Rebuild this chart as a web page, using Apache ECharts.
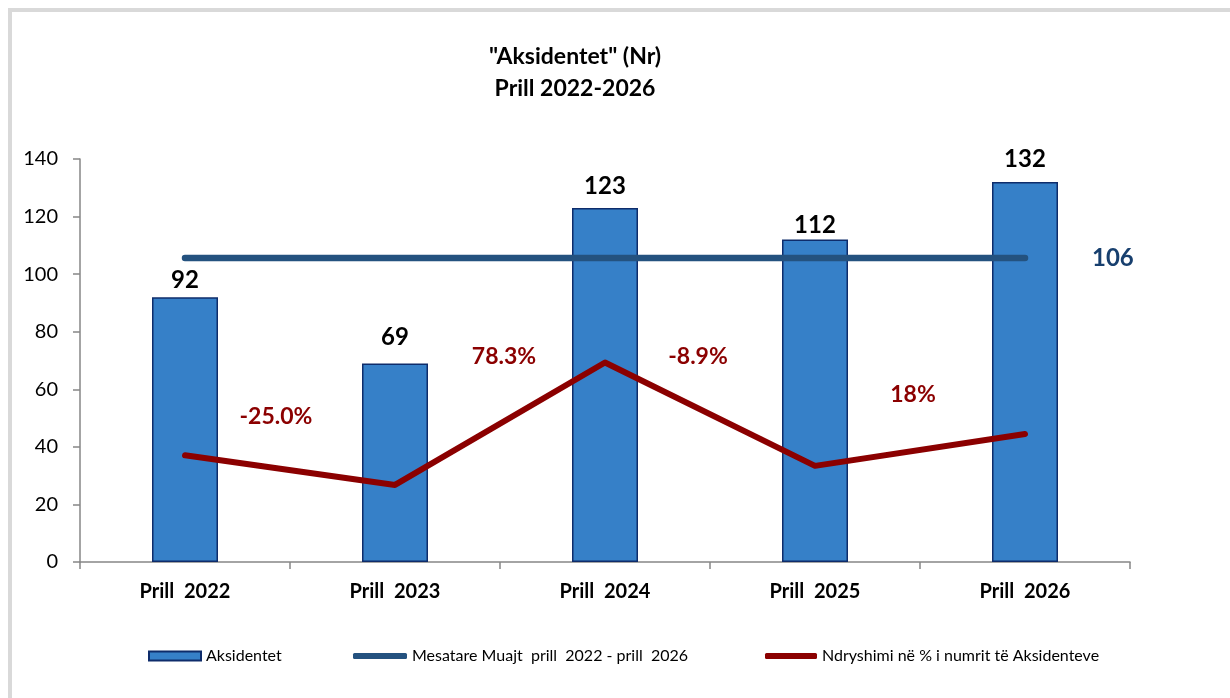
<!DOCTYPE html>
<html><head><meta charset="utf-8">
<script src="https://cdn.jsdelivr.net/npm/echarts@6/dist/echarts.min.js"></script>
<style>html,body{margin:0;padding:0;background:#fff}#c{width:1230px;height:698px}</style>
</head><body><div id="c"></div>
<script>
// ---- data ----
const categories = ['Prill  2022', 'Prill  2023', 'Prill  2024', 'Prill  2025', 'Prill  2026'];
const accidents = [92, 69, 123, 112, 132];
const averageValue = 105.6;
const averageLabel = '106';
const pctChange = [0, -25.0, 78.3, -8.9, 18];
const pctLabels = ['', '-25.0%', '78.3%', '-8.9%', '18%'];
const yTicks = [0, 20, 40, 60, 80, 100, 120, 140];
const titleLines = ['"Aksidentet" (Nr)', 'Prill 2022-2026'];
const seriesNames = ['Aksidentet', 'Mesatare Muajt  prill  2022 - prill  2026', 'Ndryshimi në % i numrit të Aksidenteve'];

// ---- style (label placement in px) ----
const pctLabelOffsets = [[0, 0], [-119, -68], [-101, -6], [-117, -109], [-112, -39]];
const barLabelDistances = [5, 14, 10, 2, 11];
const FONT = 'Lato, "Liberation Sans", sans-serif';
const RED = '#8B0000';
const AVG = '#24527F';

const chart = echarts.init(document.getElementById('c'), null, { renderer: 'canvas' });

const option = {
  backgroundColor: '#fff',
  animation: false,
  textStyle: { fontFamily: FONT },
  graphic: [
    { type: 'rect', shape: { x: 10, y: 10, width: 1240, height: 720 }, style: { fill: 'none', stroke: '#D9D9D9', lineWidth: 4 }, silent: true },
    { type: 'text', x: 575, y: 57, style: { text: titleLines[0], font: 'bold 23px ' + FONT, fill: '#000', textAlign: 'center', textVerticalAlign: 'middle' } },
    { type: 'text', x: 575, y: 89, style: { text: titleLines[1], font: 'bold 23px ' + FONT, fill: '#000', textAlign: 'center', textVerticalAlign: 'middle' } }
  ],
  grid: { left: 80, right: 100, top: 159, bottom: 136, containLabel: false },
  legend: [
    { data: [seriesNames[0]], left: 143, top: 643, itemWidth: 52, itemHeight: 9, icon: 'rect',
      textStyle: { fontSize: 16, color: '#000', fontFamily: FONT } },
    { data: [seriesNames[1]], left: 348, top: 643, itemWidth: 54, itemHeight: 6, icon: 'roundRect',
      textStyle: { fontSize: 16, color: '#000', fontFamily: FONT } },
    { data: [seriesNames[2]], left: 760, top: 643, itemWidth: 52, itemHeight: 6, icon: 'roundRect',
      textStyle: { fontSize: 16, color: '#000', fontFamily: FONT } }
  ],
  xAxis: {
    type: 'category',
    data: categories,
    boundaryGap: true,
    axisLine: { lineStyle: { color: '#868686', width: 1.5 } },
    axisTick: { show: true, alignWithLabel: false, length: 7, lineStyle: { color: '#868686', width: 1.5 } },
    axisLabel: { color: '#000', fontSize: 20, fontWeight: 'bold', margin: 20, fontFamily: FONT }
  },
  yAxis: [
    {
      type: 'value', min: yTicks[0], max: yTicks[yTicks.length - 1], interval: 20,
      axisLine: { show: true, lineStyle: { color: '#868686', width: 1.5 } },
      axisTick: { show: true, length: 7, lineStyle: { color: '#868686', width: 1.5 } },
      axisLabel: { color: '#000', fontSize: 20, margin: 22, fontFamily: FONT },
      splitLine: { show: false }
    },
    { type: 'value', min: -90, max: 250, show: false, splitLine: { show: false } }
  ],
  series: [
    {
      name: seriesNames[0], type: 'bar', z: 2, barWidth: 66,
      data: accidents.map((v, i) => ({ value: v, label: { distance: barLabelDistances[i] } })),
      itemStyle: { color: '#3680C8', borderColor: '#0E2C6B', borderWidth: 1.5 },
      label: { show: true, position: 'top', color: '#000', fontSize: 24, fontWeight: 'bold', fontFamily: FONT }
    },
    {
      name: seriesNames[1], type: 'line', data: categories.map(() => averageValue), z: 3,
      symbol: 'none', lineStyle: { color: AVG, width: 6.5, cap: 'round' }, itemStyle: { color: AVG },
      endLabel: { show: true, formatter: averageLabel, distance: 67, color: '#173F6E', fontSize: 24, fontWeight: 'bold', fontFamily: FONT }
    },
    {
      name: seriesNames[2], type: 'line', yAxisIndex: 1, z: 4,
      data: pctChange.map((v, i) => ({
        value: v,
        label: { show: pctLabels[i] !== '', formatter: pctLabels[i], position: 'inside', offset: pctLabelOffsets[i] }
      })),
      symbol: 'circle', symbolSize: 1, showSymbol: true,
      lineStyle: { color: RED, width: 6, cap: 'round', join: 'round' }, itemStyle: { color: RED },
      label: { color: RED, fontSize: 23, fontWeight: 'bold', fontFamily: FONT }
    }
  ]
};
chart.setOption(option);
</script>
</body></html>
